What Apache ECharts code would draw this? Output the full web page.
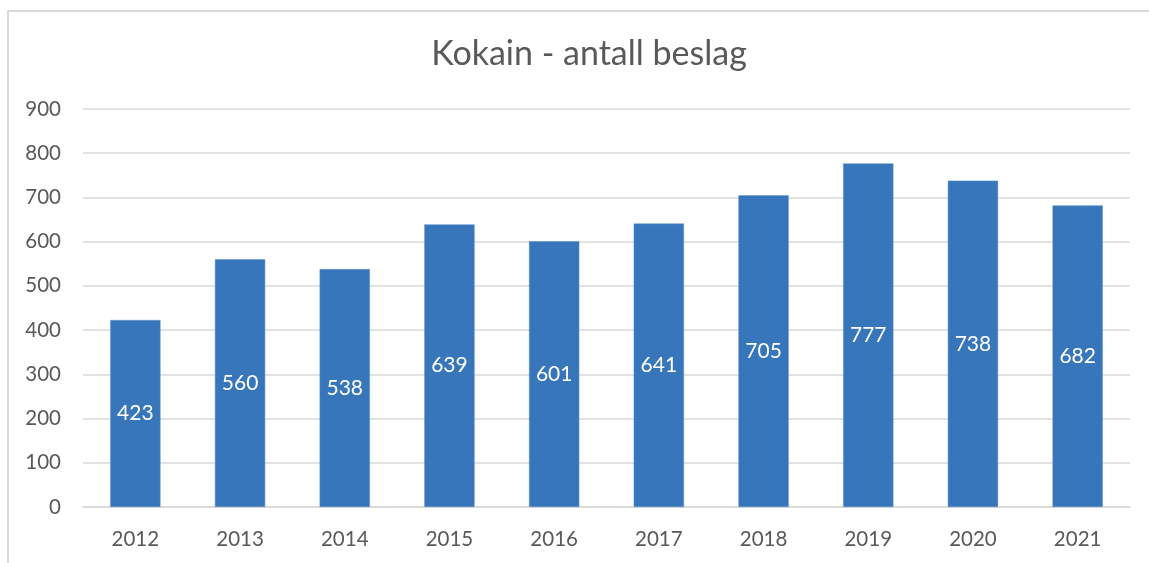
<!DOCTYPE html>
<html>
<head>
<meta charset="utf-8">
<script src="https://cdn.jsdelivr.net/npm/echarts@6/dist/echarts.min.js"></script>
<style>
	html, body { margin: 0; padding: 0; overflow: hidden; background: #fff; }
	#frame { position: absolute; left: 7px; top: 10px; width: 1200px; height: 600px; border: 2px solid #d9d9d9; box-sizing: border-box; }
	#main { position: absolute; left: 0; top: 0; width: 1149px; height: 563px; }
</style>
</head>
<body>
<div id="frame"></div>
<div id="main"></div>
<script>
	// data
	var years = ['2012', '2013', '2014', '2015', '2016', '2017', '2018', '2019', '2020', '2021'];
	var seizures = [423, 560, 538, 639, 601, 641, 705, 777, 738, 682];

	var chart = echarts.init(document.getElementById('main'));
	var font = 'Lato, "Open Sans", sans-serif';
	chart.setOption({
		title: {
			text: 'Kokain - antall beslag',
			left: 584,
			top: 32,
			textAlign: 'center',
			textStyle: { fontFamily: font, fontSize: 34, fontWeight: 'normal', color: '#595959' }
		},
		grid: { left: 83, right: 19, top: 109, bottom: 56 },
		xAxis: {
			type: 'category',
			data: years,
			axisLine: { lineStyle: { color: '#d9d9d9', width: 1.5 } },
			axisTick: { show: false },
			axisLabel: { fontFamily: font, fontSize: 20.5, color: '#595959', margin: 22 }
		},
		yAxis: {
			type: 'value',
			min: 0,
			max: 900,
			interval: 100,
			axisLine: { show: false },
			axisTick: { show: false },
			splitLine: { lineStyle: { color: '#d9d9d9', width: 1.5 } },
			axisLabel: { fontFamily: font, fontSize: 20.5, color: '#595959', margin: 22 }
		},
		series: [{
			type: 'bar',
			data: seizures,
			barWidth: '48%',
			itemStyle: { color: '#3776bb', borderColor: '#5b8fcc', borderWidth: 0.5 },
			label: {
				show: true,
				position: 'inside',
				color: '#ffffff',
				fontFamily: font,
				fontSize: 21
			},
			animation: false
		}]
	});
</script>
</body>
</html>
